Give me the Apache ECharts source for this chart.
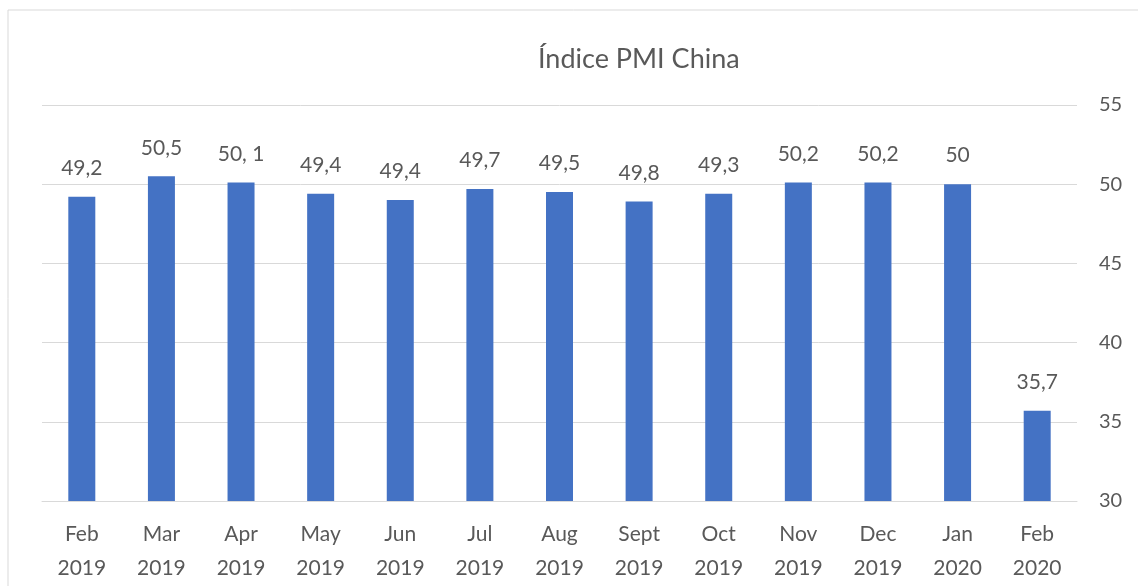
<!DOCTYPE html>
<html>
<head>
<meta charset="utf-8">
<script src="https://cdn.jsdelivr.net/npm/echarts@6/dist/echarts.min.js"></script>
<style>
  html, body { margin: 0; padding: 0; background: #fff; }
  #chart { width: 1138px; height: 586px; }
</style>
</head>
<body>
<div id="chart"></div>
<script>
const months = ['Feb\n2019', 'Mar\n2019', 'Apr\n2019', 'May\n2019', 'Jun\n2019', 'Jul\n2019', 'Aug\n2019',
  'Sept\n2019', 'Oct\n2019', 'Nov\n2019', 'Dec\n2019', 'Jan\n2020', 'Feb\n2020']
// bar heights as drawn in the picture
const pmiBars = [49.2, 50.5, 50.1, 49.4, 49.0, 49.7, 49.5, 48.9, 49.4, 50.1, 50.1, 50.0, 35.7]
// value labels printed above the bars
const pmiLabels = ['49,2', '50,5', '50, 1', '49,4', '49,4', '49,7', '49,5', '49,8', '49,3', '50,2', '50,2', '50', '35,7']
const yTicks = [30, 35, 40, 45, 50, 55]

const font = 'Lato, "Open Sans", sans-serif'
const textColor = '#595959'

const chart = echarts.init(document.getElementById('chart'))
chart.setOption({
  animation: false,
  title: {
    text: 'Índice PMI China',
    left: 533,
    top: 41,
    textStyle: { fontFamily: font, fontSize: 27, fontWeight: 'normal', color: textColor }
  },
  graphic: [{
    type: 'rect',
    shape: { x: 8, y: 10, width: 1200, height: 640 },
    style: { fill: 'none', stroke: '#d9d9d9', lineWidth: 1 },
    silent: true
  }],
  grid: { left: 42, right: 61, top: 105, bottom: 85 },
  xAxis: {
    type: 'category',
    data: months,
    axisTick: { show: false },
    axisLine: { lineStyle: { color: '#d9d9d9' } },
    axisLabel: {
      margin: 16,
      fontFamily: font,
      fontSize: 21,
      lineHeight: 34,
      color: textColor,
      interval: 0
    }
  },
  yAxis: {
    type: 'value',
    position: 'right',
    min: yTicks[0],
    max: yTicks[yTicks.length - 1],
    interval: 5,
    axisLine: { show: false },
    axisTick: { show: false },
    splitLine: { lineStyle: { color: '#d9d9d9' } },
    axisLabel: { margin: 22, fontFamily: font, fontSize: 20, color: textColor }
  },
  series: [{
    type: 'bar',
    data: pmiBars,
    barWidth: 27,
    itemStyle: { color: '#4472c4' },
    label: {
      show: true,
      position: 'top',
      distance: 18,
      fontFamily: font,
      fontSize: 21,
      color: textColor,
      formatter: p => pmiLabels[p.dataIndex]
    }
  }]
})
</script>
</body>
</html>
